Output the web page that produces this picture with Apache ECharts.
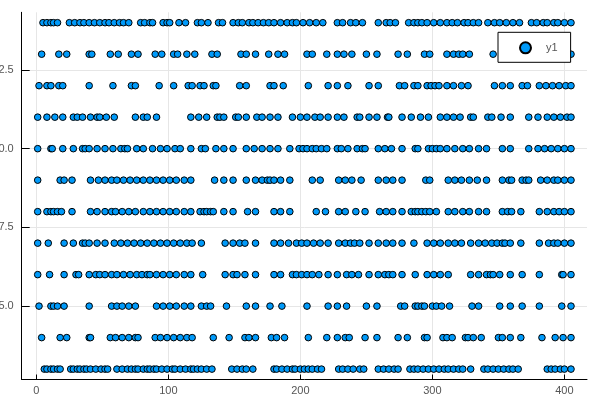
<!DOCTYPE html>
<html>
<head>
<meta charset="utf-8">
<script src="https://cdn.jsdelivr.net/npm/echarts@6/dist/echarts.min.js"></script>
<style>html,body{margin:0;padding:0;background:#fff}#c{width:600px;height:400px}</style>
</head>
<body>
<div id="c"></div>
<script>
// x positions of the points on each integer y level
const y14 = [5,8,11,13,16,25,29,33,36,40,44,48,52,55,59,63,66,70,79,82,86,88,96,99,101,108,113,122,125,130,138,141,149,153,156,161,164,168,172,176,180,185,190,194,197,202,207,212,217,228,232,238,242,247,259,265,268,272,282,286,289,292,296,301,306,311,315,319,324,327,331,335,342,347,351,356,361,366,375,379,384,387,392,395,400,405];
const y13 = [4,17,23,40,42,56,62,72,77,90,95,104,107,114,120,133,137,155,159,166,176,183,188,205,209,220,228,233,239,250,258,274,281,294,298,311,316,320,323,328,346,358,372,388,405];
const y12 = [2,8,11,17,20,40,58,72,75,93,104,115,118,124,127,134,136,154,159,177,180,187,206,221,228,236,252,259,275,279,286,289,296,299,302,305,311,316,322,327,347,353,359,368,372,381,386,391,396,401,405];
const y11 = [1,8,14,20,28,31,35,41,46,48,53,59,75,81,84,91,117,123,129,137,139,142,151,153,159,167,171,177,183,194,200,205,211,215,221,228,233,243,245,252,258,266,267,277,284,291,297,306,311,316,321,329,331,342,345,352,359,373,380,387,392,397,402,405];
const y10 = [1,11,12,20,28,35,37,40,46,52,58,64,67,69,76,81,88,94,99,105,109,117,125,128,136,142,149,159,165,171,177,183,192,199,202,205,209,212,216,220,228,231,236,243,247,249,259,264,269,277,287,289,297,300,303,306,311,317,323,328,335,341,353,359,373,380,385,390,395,400,405];
const y9 = [1,18,21,27,41,47,52,57,61,66,71,76,81,86,91,96,101,106,112,117,135,142,149,159,166,171,175,177,180,185,192,209,215,229,234,239,246,259,265,270,277,295,298,312,317,322,328,334,341,353,358,360,368,371,373,382,387,392,395,400,405];
const y8 = [1,8,11,13,16,19,27,41,46,52,57,60,65,70,75,81,86,91,96,101,106,112,117,124,127,129,132,134,142,149,160,166,180,185,192,212,219,229,234,242,249,260,265,270,277,284,287,289,292,295,298,303,312,317,323,328,335,341,353,357,360,367,381,387,392,396,400,405];
const y7 = [1,9,21,28,35,37,40,46,52,59,64,69,74,79,84,89,94,99,104,109,114,118,125,143,149,154,158,166,180,185,191,197,201,205,210,215,221,229,234,238,241,245,252,259,265,270,277,286,296,301,306,312,317,322,329,335,340,345,349,353,355,359,367,381,388,392,395,400,405];
const y6 = [1,10,21,30,32,40,45,48,52,57,61,66,71,76,80,84,86,91,96,101,106,112,117,126,143,149,152,158,166,180,185,194,197,201,205,209,214,221,228,235,239,244,252,259,264,267,270,277,287,296,301,306,312,329,335,341,344,346,351,359,368,381,398,399,405];
const y5 = [2,11,13,16,21,40,57,61,65,70,75,91,96,101,106,112,117,125,129,132,144,159,166,177,186,205,221,228,235,250,258,276,279,287,289,292,294,300,303,307,313,330,335,351,359,368,381,398,405];
const y4 = [4,18,23,40,41,56,60,65,70,75,77,90,94,99,104,109,114,118,134,146,158,161,166,178,182,188,206,220,228,234,237,249,258,274,281,294,296,308,311,315,325,327,331,337,350,353,359,367,383,393,399,405];
const y3 = [6,8,11,13,16,18,26,28,31,33,36,38,41,45,49,52,54,61,65,69,72,75,77,81,84,86,89,91,95,99,103,105,109,113,117,119,122,125,129,133,148,152,156,159,164,180,182,186,190,194,196,200,203,206,209,213,216,229,232,236,240,245,248,259,263,267,271,274,283,286,289,293,297,301,305,309,312,316,320,323,329,339,342,346,350,354,358,361,365,387,390,393,397,400,405];

const xTicks = [0, 100, 200, 300, 400];
const yTicks = [5.0, 7.5, 10.0, 12.5];
const seriesName = 'y1';

const levels = [[3,y3],[4,y4],[5,y5],[6,y6],[7,y7],[8,y8],[9,y9],[10,y10],[11,y11],[12,y12],[13,y13],[14,y14]];
const points = [];
levels.forEach(([y, xs]) => xs.forEach(x => points.push([x, y])));
points.sort((a, b) => a[0] - b[0]);

const xMin = 1, xMax = 405, yMin = 3, yMax = 14;
const xPad = (xMax - xMin) * 0.03, yPad = (yMax - yMin) * 0.03;

const chart = echarts.init(document.getElementById('c'), null, {renderer: 'canvas'});
const font = "'Liberation Sans', Arial, sans-serif";
chart.setOption({
  animation: false,
  backgroundColor: '#fff',
  textStyle: {fontFamily: font},
  grid: {left: 21.7, right: 13, top: 12.3, bottom: 20.5, containLabel: false, outerBoundsMode: 'none'},
  legend: {
    data: [seriesName],
    left: 498, top: 32.3,
    orient: 'horizontal',
    padding: [9, 13, 8, 21],
    itemWidth: 11, itemHeight: 11,
    backgroundColor: '#fff',
    borderColor: '#000', borderWidth: 1, borderRadius: 0,
    textStyle: {color: '#555', fontSize: 11, fontFamily: font, padding: [0, 0, 0, 10]}
  },
  xAxis: {
    type: 'value',
    min: xMin - xPad, max: xMax + xPad,
    axisLine: {show: true, onZero: false, lineStyle: {color: '#000', width: 1}},
    axisTick: {show: true, inside: true, length: 5, customValues: xTicks, lineStyle: {color: '#000'}},
    axisLabel: {customValues: xTicks, color: '#555', fontSize: 11, margin: 6, fontFamily: font},
    splitLine: {show: true, lineStyle: {color: '#e6e6e6', width: 1}}
  },
  yAxis: {
    type: 'value',
    min: yMin - yPad, max: yMax + yPad,
    axisLine: {show: true, onZero: false, lineStyle: {color: '#000', width: 1}},
    axisTick: {show: true, inside: true, length: 8, customValues: yTicks, lineStyle: {color: '#000'}},
    axisLabel: {customValues: yTicks, color: '#555', fontSize: 11, margin: 8, fontFamily: font,
      formatter: v => Number(v).toFixed(1)},
    splitLine: {show: true, lineStyle: {color: '#e6e6e6', width: 1}}
  },
  series: [{
    name: seriesName,
    type: 'scatter',
    data: points,
    symbol: 'circle',
    symbolSize: 6.6,
    itemStyle: {color: '#009AFA', borderColor: '#000', borderWidth: 1, opacity: 1},
    emphasis: {disabled: true}
  }]
});
</script>
</body>
</html>
